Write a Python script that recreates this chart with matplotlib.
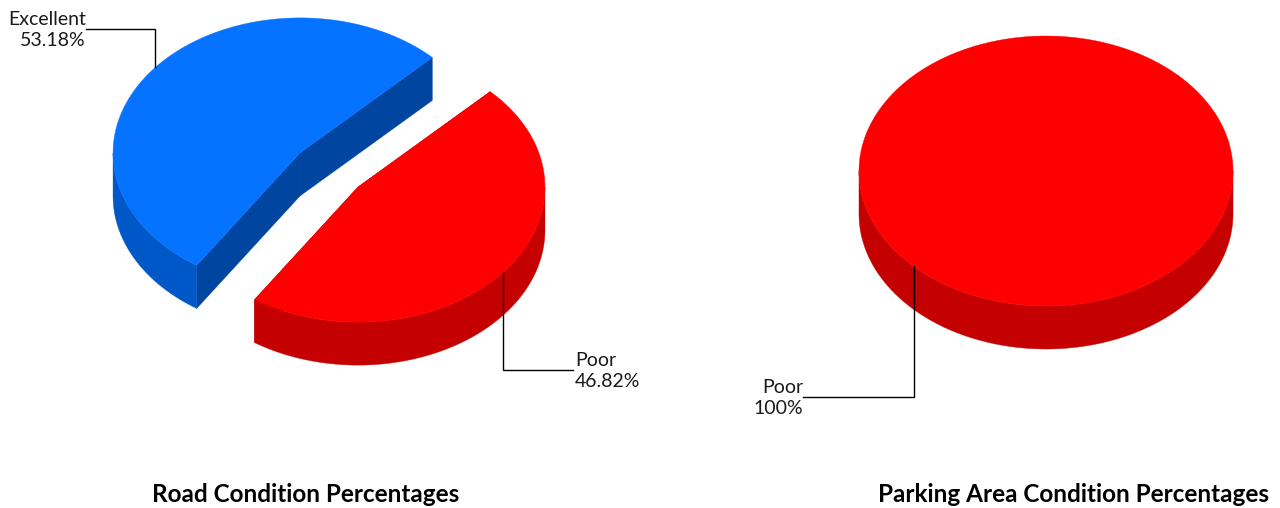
import numpy as np
import matplotlib
matplotlib.use("Agg")
import matplotlib.pyplot as plt
from matplotlib.patches import Polygon

# datos
road_labels = ["Excellent", "Poor"]
road_values = [53.18, 46.82]
road_colors = ["#0573ff", "#ff0000"]
road_side = ["#0057c8", "#c40000"]
road_face = ["#0046a0", "#a00000"]

parking_labels = ["Poor"]
parking_values = [100]
parking_colors = ["#ff0000"]
parking_side = ["#c40000"]
parking_face = ["#a00000"]

plt.rcParams['font.family'] = ['Lato', 'DejaVu Sans']

fig = plt.figure(figsize=(12.8, 5.08), dpi=100)
ax = fig.add_axes([0, 0, 1, 1])
ax.set_xlim(0, 1280)
ax.set_ylim(508, 0)
ax.axis('off')


def punto(c, rx, ry, t, dz=0):
    r = np.radians(t)
    return c[0] + rx * np.cos(r), c[1] - ry * np.sin(r) + dz


def arco(c, rx, ry, a, b, dz=0, n=120):
    t = np.radians(np.linspace(a, b, n))
    return np.column_stack([c[0] + rx * np.cos(t), c[1] - ry * np.sin(t) + dz])


def pie3d(center, values, tops, sides, faces, explode, labels, label_pos, label_side,
          rx=187, ry=135, depth=43, start=45):
    total = float(sum(values))
    ang = start
    slices = []
    for i, v in enumerate(values):
        span = 360 * v / total
        a, b = ang, ang + span
        mid = (a + b) / 2
        c = (center[0] + explode[i] * rx * np.cos(np.radians(mid)),
             center[1] - explode[i] * ry * np.sin(np.radians(mid)))
        slices.append((a, b, mid, c))
        ang = b

    # caras radiales
    for i, (a, b, mid, c) in enumerate(slices):
        for t in (a, b):
            p = punto(c, rx, ry, t)
            quad = [c, p, (p[0], p[1] + depth), (c[0], c[1] + depth)]
            ax.add_patch(Polygon(quad, closed=True, fc=faces[i], ec=faces[i], lw=0.3))

    # lado exterior (solo parte frontal)
    for i, (a, b, mid, c) in enumerate(slices):
        for lo, hi in ((180, 360), (540, 720)):
            s, e = max(a, lo), min(b, hi)
            if e > s:
                top = arco(c, rx, ry, s, e)
                bot = arco(c, rx, ry, e, s, depth)
                ax.add_patch(Polygon(np.vstack([top, bot]), closed=True,
                                     fc=sides[i], ec=sides[i], lw=0.3))

    # tapas
    for i, (a, b, mid, c) in enumerate(slices):
        pts = arco(c, rx, ry, a, b, n=240)
        if b - a < 359.9:
            pts = np.vstack([[c], pts])
        ax.add_patch(Polygon(pts, closed=True, fc=tops[i], ec=tops[i], lw=0.3))

    # etiquetas
    for i, (a, b, mid, c) in enumerate(slices):
        px, py = punto(c, rx, ry, mid)
        lx, ly = label_pos[i]
        ax.plot([px, px, lx], [py, ly, ly], color='black', lw=1, solid_joinstyle='miter')
        txt = "%s\n%g%%" % (labels[i], values[i])
        ax.text(lx + (2 if label_side[i] == 'left' else 0), ly + 1, txt,
                ha=label_side[i], va='center', fontsize=14,
                color='#1a1a1a', linespacing=1.25, multialignment=label_side[i])


pie3d((329, 170), road_values, road_colors, road_side, road_face, [0.2, 0.2],
      road_labels, [(86, 29), (573, 370)], ['right', 'left'])
pie3d((1046, 171), parking_values, parking_colors, parking_side, parking_face, [0],
      parking_labels, [(803, 397)], ['right'])

ax.text(306, 494, "Road Condition Percentages", ha='center', va='center',
        fontsize=17.5, fontweight='bold', color='black')
ax.text(1074, 494, "Parking Area Condition Percentages", ha='center', va='center',
        fontsize=17.5, fontweight='bold', color='black')

plt.savefig("out.png", dpi=100)
